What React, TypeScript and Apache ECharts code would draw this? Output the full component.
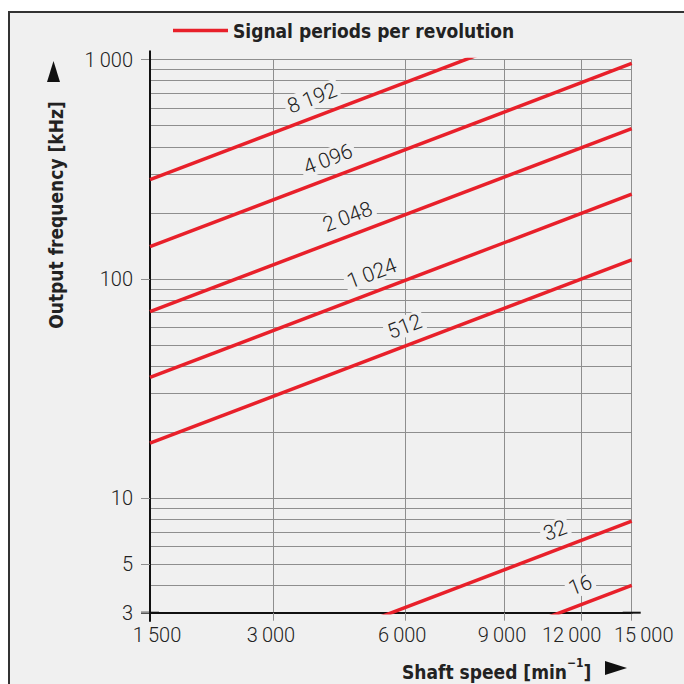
import React, { useEffect, useRef } from 'react';
import * as echarts from 'echarts';

// ---------- data ----------
const seriesName = 'Signal periods per revolution';
const periodLabels = ['8\u2009192', '4\u2009096', '2\u2009048', '1\u2009024', '512', '32', '16'];
// output frequency [kHz] of each line at the left (1 500) and right (15 000) edge of the plot
const freqAtMinSpeed = [283, 140, 70.8, 35.5, 17.8, 1.14, 0.58];
const freqAtMaxSpeed = [1940, 959, 484, 243, 122, 7.85, 4.0];
const speedRange = [1500, 15000];
const speedTickLabels = ['1\u2009500', '3\u2009000', '6\u2009000', '9\u2009000', '12\u2009000', '15\u2009000'];
// where the reference prints each speed label on its (log) speed scale
const speedTickValues = [1500, 2700, 5080, 8150, 11810, 15000];
const freqTickLabels = ['3', '5', '10', '100', '1\u2009000'];
const freqTickValues = [3, 5, 10, 100, 1000];
const freqGridValues = [4, 5, 6, 7, 8, 9, 10, 20, 30, 40, 50, 60, 70, 80, 90, 100, 200, 300, 400, 500, 600, 700, 800, 900, 1000];

// ---------- layout / style ----------
const labelAlong = [152, 169, 190, 216, 259, 426, 453];
const labelPerp = 8;
const speedLabelShift = [7, -2, -3, -2, -10, 12];
const RED = '#e8202a';
const GRID = '#8e8e8e';
const BG = '#f0f0f0';
const INK = '#222222';
const AXIS = '#111111';
const NUM_FONT = 'Roboto, "Liberation Sans", sans-serif';
const NARROW_FONT = '"Liberation Sans Narrow", "DejaVu Sans Condensed", "Liberation Sans", sans-serif';

function nearestIndex(values: number[], v: number) {
  let best = 0;
  let bestD = Infinity;
  values.forEach((t, i) => {
    const d = Math.abs(Math.log(t) - Math.log(v));
    if (d < bestD) {
      bestD = d;
      best = i;
    }
  });
  return best;
}

const numStyle = { fontSize: 20, fontFamily: NUM_FONT, fontWeight: 300, color: INK };

function speedRich() {
  const rich: any = {};
  speedLabelShift.forEach((s, i) => {
    rich['s' + i] = {
      ...numStyle,
      padding: s >= 0 ? [0, 0, 0, 2 * s] : [0, -2 * s, 0, 0],
    };
  });
  return rich;
}

function buildOption(labelEls: any[]) {
  const series = periodLabels.map((p, i) => ({
    name: seriesName,
    type: 'line',
    xAxisIndex: 0,
    yAxisIndex: 0,
    data: [
      [speedRange[0], freqAtMinSpeed[i]],
      [speedRange[1], freqAtMaxSpeed[i]],
    ],
    symbol: 'none',
    showSymbol: false,
    clip: true,
    silent: true,
    z: 4,
    lineStyle: { color: RED, width: 3.5 },
    itemStyle: { color: RED },
  }));

  return {
    animation: false,
    backgroundColor: BG,
    grid: {
      left: 150,
      right: 52.3,
      top: 59.5,
      bottom: 71.3,
      containLabel: false,
      outerBoundsMode: 'none',
    },
    legend: {
      show: true,
      data: [seriesName],
      left: 173,
      top: 21,
      padding: 0,
      icon: 'rect',
      itemWidth: 55,
      itemHeight: 3.5,
      selectedMode: false,
      textStyle: { fontFamily: NARROW_FONT, fontWeight: 'bold', fontSize: 19, color: INK },
    },
    xAxis: [
      {
        type: 'log',
        logBase: 10,
        min: speedRange[0],
        max: speedRange[1],
        axisLine: {
          show: true,
          lineStyle: { color: AXIS, width: 2 },
          symbol: ['rect', 'rect'],
          symbolSize: [2, 18],
        },
        axisTick: { show: true, customValues: speedTickValues, length: 8, lineStyle: { color: GRID, width: 1 } },
        axisLabel: {
          show: true,
          customValues: speedTickValues,
          margin: 12,
          hideOverlap: false,
          showMinLabel: true,
          showMaxLabel: true,
          ...numStyle,
          rich: speedRich(),
          formatter: (v: number) => {
            const i = nearestIndex(speedTickValues, v);
            return '{s' + i + '|' + speedTickLabels[i] + '}';
          },
        },
        splitLine: { show: true, lineStyle: { color: GRID, width: 1 } },
        minorTick: { show: false },
        minorSplitLine: { show: false },
      },
    ],
    yAxis: [
      {
        type: 'log',
        logBase: 10,
        min: 3,
        max: 1000,
        position: 'left',
        z: 3,
        axisLine: {
          show: true,
          lineStyle: { color: AXIS, width: 2 },
          symbol: ['rect', 'rect'],
          symbolSize: [2, 18],
        },
        axisTick: { show: true, customValues: freqTickValues, length: 9, lineStyle: { color: GRID, width: 1 } },
        axisLabel: {
          show: true,
          customValues: freqTickValues,
          margin: 17,
          hideOverlap: false,
          showMinLabel: true,
          showMaxLabel: true,
          ...numStyle,
          formatter: (v: number) => freqTickLabels[nearestIndex(freqTickValues, v)],
        },
        splitLine: { show: false },
        minorTick: { show: false },
        minorSplitLine: { show: false },
      },
      {
        type: 'log',
        logBase: 10,
        min: 3,
        max: 1000,
        position: 'left',
        z: 0,
        axisLine: { show: false },
        axisTick: { show: false, customValues: freqGridValues },
        axisLabel: { show: false, customValues: freqGridValues },
        splitLine: { show: true, lineStyle: { color: GRID, width: 1 } },
        minorTick: { show: false },
        minorSplitLine: { show: false },
      },
    ],
    series,
    graphic: {
      elements: [
        { type: 'rect', shape: { x: 0, y: 0, width: 684, height: 11 }, style: { fill: '#ffffff' }, silent: true },
        { type: 'rect', shape: { x: 0, y: 0, width: 8, height: 684 }, style: { fill: '#ffffff' }, silent: true },
        { type: 'line', shape: { x1: 8, y1: 12, x2: 684, y2: 12 }, style: { stroke: '#333333', lineWidth: 2 }, silent: true },
        { type: 'line', shape: { x1: 9, y1: 11, x2: 9, y2: 684 }, style: { stroke: '#333333', lineWidth: 2 }, silent: true },
        {
          type: 'text',
          x: 56,
          y: 215,
          rotation: Math.PI / 2,
          silent: true,
          style: {
            text: 'Output frequency [kHz]',
            fontFamily: NARROW_FONT,
            fontWeight: 'bold',
            fontSize: 19,
            fill: INK,
            align: 'center',
            verticalAlign: 'middle',
            textAlign: 'center',
            textVerticalAlign: 'middle',
          },
        },
        { type: 'polygon', shape: { points: [[47, 82], [60, 82], [53.5, 61]] }, style: { fill: '#111111' }, silent: true },
        {
          type: 'text',
          x: 402,
          y: 669,
          silent: true,
          style: {
            text: '{a|Shaft speed [min}{s|\u22121}{a|]}',
            align: 'left',
            verticalAlign: 'middle',
            textAlign: 'left',
            textVerticalAlign: 'middle',
            fill: INK,
            rich: {
              a: { fontFamily: NARROW_FONT, fontWeight: 'bold', fontSize: 19, fill: INK, color: INK, lineHeight: 24, verticalAlign: 'bottom' },
              s: { fontFamily: NARROW_FONT, fontWeight: 'bold', fontSize: 12, fill: INK, color: INK, lineHeight: 14, verticalAlign: 'top' },
            },
          },
        },
        { type: 'polygon', shape: { points: [[605, 661], [605, 675], [627, 668]] }, style: { fill: '#111111' }, silent: true },
        ...labelEls,
      ],
    },
  };
}

function buildLineLabels(chart: any) {
  return periodLabels.map((p, i) => {
    const a = chart.convertToPixel({ xAxisIndex: 0, yAxisIndex: 0 }, [speedRange[0], freqAtMinSpeed[i]]);
    const b = chart.convertToPixel({ xAxisIndex: 0, yAxisIndex: 0 }, [speedRange[1], freqAtMaxSpeed[i]]);
    const dx = b[0] - a[0];
    const dy = b[1] - a[1];
    const len = Math.hypot(dx, dy);
    const ux = dx / len;
    const uy = dy / len;
    const nx = uy;
    const ny = -ux;
    return {
      type: 'text',
      x: a[0] + ux * labelAlong[i] + nx * labelPerp,
      y: a[1] + uy * labelAlong[i] + ny * labelPerp,
      rotation: Math.atan2(-dy, dx),
      z: 1,
      silent: true,
      style: {
        text: p,
        fontFamily: NUM_FONT,
        fontWeight: 300,
        fontSize: 21,
        fill: INK,
        align: 'left',
        verticalAlign: 'bottom',
        textAlign: 'left',
        textVerticalAlign: 'bottom',
        backgroundColor: BG,
        padding: [0, 3, 0, 3],
      },
    };
  });
}

export default function App() {
  const ref = useRef<HTMLDivElement>(null);
  useEffect(() => {
    const chart = echarts.init(ref.current as HTMLDivElement, null, { renderer: 'svg' });
    chart.setOption(buildOption([]) as any);
    const labels = buildLineLabels(chart);
    chart.setOption(buildOption(labels) as any, { notMerge: true });
    return () => chart.dispose();
  }, []);
  return <div ref={ref} style={{ position: 'fixed', left: 0, top: 0, width: 684, height: 684 }} />;
}
